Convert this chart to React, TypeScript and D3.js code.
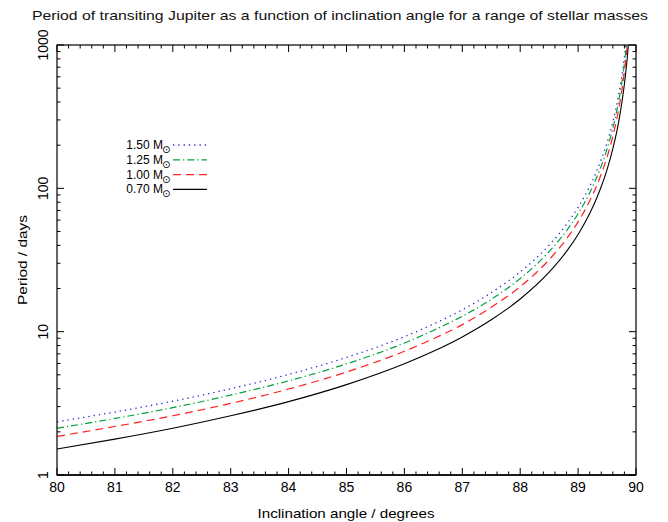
import React from "react";
import * as d3 from "d3";

const angles = [80, 81, 82, 83, 84, 85, 86, 86.5, 87, 87.5, 88, 88.5, 88.8, 89, 89.2, 89.3, 89.4, 89.5, 89.6, 89.7, 89.8, 89.85, 89.9];
const p150 = [2.35, 2.75, 3.27, 4.0, 5.03, 6.61, 9.23, 11.3, 14.2, 18.7, 26.1, 40.2, 56.1, 73.7, 103, 126, 159, 208, 291, 449, 825, 1269, 2331];
const p125 = [2.12, 2.48, 2.95, 3.61, 4.54, 5.96, 8.33, 10.2, 12.8, 16.8, 23.5, 36.2, 50.6, 66.5, 93.0, 114, 143, 188, 263, 405, 744, 1145, 2103];
const p100 = [1.86, 2.18, 2.59, 3.16, 3.98, 5.23, 7.3, 8.92, 11.2, 14.8, 20.6, 31.8, 44.4, 58.4, 81.6, 99.7, 126, 165, 231, 355, 653, 1005, 1845];
const p070 = [1.52, 1.78, 2.12, 2.59, 3.25, 4.27, 5.97, 7.29, 9.19, 12.1, 16.9, 26.0, 36.3, 47.7, 66.7, 81.5, 103, 135, 189, 290, 534, 821, 1508];

const seriesLabels = ["1.50", "1.25", "1.00", "0.70"];
const xTicks = [80, 81, 82, 83, 84, 85, 86, 87, 88, 89, 90];
const yTicks = [1, 10, 100, 1000];

const title = "Period of transiting Jupiter as a function of inclination angle for a range of stellar masses";
const xLabel = "Inclination angle / degrees";
const yLabel = "Period / days";

const styles = [
  { color: "#2a2ad0", dash: "1.3 4", width: 1.3 },
  { color: "#00a040", dash: "7 3 1.3 3", width: 1.2 },
  { color: "#ff2020", dash: "8 5", width: 1.2 },
  { color: "#000000", dash: "none", width: 1.1 },
];

const L = 57, R = 636, T = 45, B = 475;
const FONT = "'Liberation Sans', Arial, sans-serif";

export default function App() {
  const x = d3.scaleLinear().domain([80, 90]).range([L, R]);
  const y = d3.scaleLog().domain([1, 1000]).range([B, T]);
  const data = [p150, p125, p100, p070];
  const line = d3
    .line<[number, number]>()
    .x((d) => x(d[0]))
    .y((d) => y(d[1]))
    .curve(d3.curveMonotoneX);

  const minorX: number[] = [];
  for (let i = 0; i <= 50; i++) minorX.push(80 + i * 0.2);
  const minorY: number[] = [];
  for (let e = 0; e < 3; e++) for (let m = 2; m <= 9; m++) minorY.push(m * Math.pow(10, e));

  return (
    <svg width={668} height={522} style={{ position: "absolute", left: 0, top: 0, background: "#fff" }} fontFamily={FONT}>
      <defs>
        <clipPath id="plotclip">
          <rect x={L} y={T} width={R - L} height={B - T} />
        </clipPath>
      </defs>
      <rect x={0} y={0} width={668} height={522} fill="#fff" />
      <text x={340} y={20} fontSize={13.5} textAnchor="middle" textLength={616} lengthAdjust="spacingAndGlyphs" fill="#111">
        {title}
      </text>

      <g clipPath="url(#plotclip)">
        {data.map((vals, k) => (
          <path
            key={k}
            d={line(angles.map((a, i) => [a, vals[i]] as [number, number])) || ""}
            fill="none"
            stroke={styles[k].color}
            strokeWidth={styles[k].width}
            strokeDasharray={styles[k].dash}
          />
        ))}
      </g>

      {/* frame */}
      <rect x={L} y={T} width={R - L} height={B - T} fill="none" stroke="#000" strokeWidth={1.2} />
      <line x1={L} x2={R} y1={B} y2={B} stroke="#000" strokeWidth={1.6} />

      {/* x ticks */}
      {minorX.map((v, i) => {
        const major = Math.abs(v - Math.round(v)) < 1e-6;
        const len = major ? 7 : 3.5;
        return (
          <g key={"xt" + i}>
            <line x1={x(v)} x2={x(v)} y1={B} y2={B - len} stroke="#000" strokeWidth={1} />
            <line x1={x(v)} x2={x(v)} y1={T} y2={T + len} stroke="#000" strokeWidth={1} />
          </g>
        );
      })}
      {xTicks.map((v) => (
        <text key={"xl" + v} x={x(v)} y={492} fontSize={14} textAnchor="middle">
          {v}
        </text>
      ))}

      {/* y ticks */}
      {yTicks.map((v) => (
        <g key={"yt" + v}>
          <line x1={L} x2={L + 7} y1={y(v)} y2={y(v)} stroke="#000" strokeWidth={1} />
          <line x1={R} x2={R - 7} y1={y(v)} y2={y(v)} stroke="#000" strokeWidth={1} />
          <text transform={`translate(48,${y(v)}) rotate(-90)`} fontSize={14} textAnchor="middle">
            {v}
          </text>
        </g>
      ))}
      {minorY.map((v, i) => (
        <g key={"ym" + i}>
          <line x1={L} x2={L + 3.5} y1={y(v)} y2={y(v)} stroke="#000" strokeWidth={1} />
          <line x1={R} x2={R - 3.5} y1={y(v)} y2={y(v)} stroke="#000" strokeWidth={1} />
        </g>
      ))}

      <text x={346} y={518} fontSize={13.5} textAnchor="middle" textLength={177} lengthAdjust="spacingAndGlyphs">
        {xLabel}
      </text>
      <text transform={`translate(27,260) rotate(-90)`} fontSize={13.5} textAnchor="middle" textLength={90} lengthAdjust="spacingAndGlyphs">
        {yLabel}
      </text>

      {/* legend */}
      {seriesLabels.map((lab, k) => {
        const ly = 145 + k * 14.8;
        return (
          <g key={"lg" + k}>
            <text x={163} y={ly + 4} fontSize={12} textAnchor="end">
              {lab + " M"}
            </text>
            <text x={162} y={ly + 8} fontSize={10} fontFamily="'DejaVu Sans', sans-serif">
              ⊙
            </text>
            <line
              x1={173}
              x2={207}
              y1={ly}
              y2={ly}
              stroke={styles[k].color}
              strokeWidth={styles[k].width}
              strokeDasharray={styles[k].dash}
            />
          </g>
        );
      })}
    </svg>
  );
}
